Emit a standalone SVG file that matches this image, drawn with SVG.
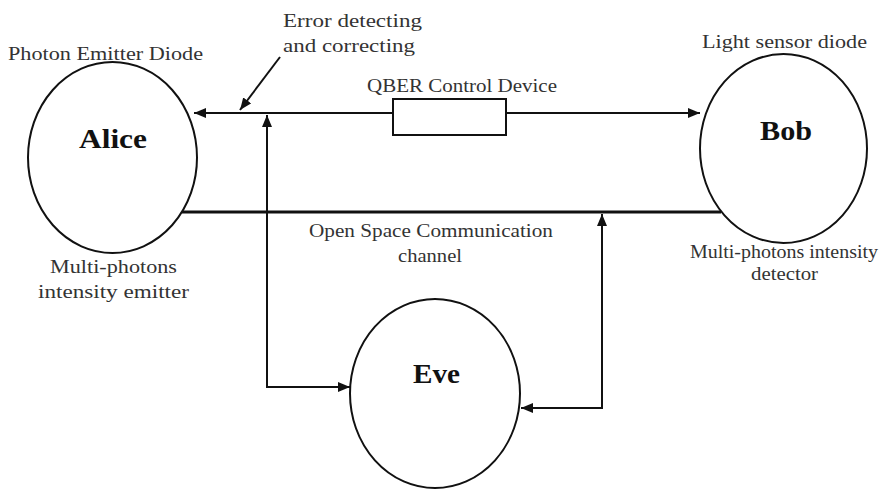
<svg xmlns="http://www.w3.org/2000/svg" width="883" height="489" viewBox="0 0 883 489">
  <style>
    .node { fill: #ffffff; stroke: #111111; stroke-width: 2; }
    .name { font-family: "Liberation Serif", "DejaVu Serif", serif; font-weight: bold; font-size: 28px; fill: #111111; text-anchor: middle; }
    .lbl { font-family: "Liberation Serif", "DejaVu Serif", serif; font-size: 18px; fill: #333333; }
    .wire { fill: none; stroke: #111111; stroke-width: 2; }
    .thick { fill: none; stroke: #111111; stroke-width: 3; }
  </style>
  <defs>
    <marker id="arrow" viewBox="0 0 12 10" refX="12" refY="5" markerWidth="12" markerHeight="10" markerUnits="userSpaceOnUse" orient="auto">
      <path d="M0,0 L12,5 L0,10 Z" fill="#111111"/>
    </marker>
  </defs>
  <rect width="883" height="489" fill="#ffffff"/>

  <!-- connectors -->
  <g id="connectors">
    <!-- upper channel: Alice <- QBER box -> Bob -->
    <line class="wire" x1="393" y1="113" x2="194" y2="113" marker-end="url(#arrow)"/>
    <line class="wire" x1="506" y1="113" x2="700" y2="113" marker-end="url(#arrow)"/>
    <!-- open space channel -->
    <line class="thick" x1="182" y1="212" x2="721" y2="212"/>
    <!-- Eve taps on upper channel -->
    <polyline class="wire" points="350,387 267,387 267,115" marker-end="url(#arrow)"/>
    <line class="wire" x1="267" y1="387" x2="350" y2="387" marker-end="url(#arrow)"/>
    <!-- Eve taps on open space channel -->
    <polyline class="wire" points="521,408 602,408 602,214" marker-end="url(#arrow)"/>
    <line class="wire" x1="602" y1="408" x2="521" y2="408" marker-end="url(#arrow)"/>
    <!-- pointer from error-correction label -->
    <line class="wire" x1="280" y1="57" x2="240" y2="110" marker-end="url(#arrow)"/>
  </g>

  <!-- QBER control device -->
  <g id="qber">
    <rect class="node" x="393" y="99" width="113" height="36"/>
    <text class="lbl" x="367" y="92" textLength="190" lengthAdjust="spacingAndGlyphs">QBER Control Device</text>
  </g>

  <!-- Alice -->
  <g id="alice">
    <ellipse class="node" cx="112.5" cy="157.5" rx="84.5" ry="95.5"/>
    <text class="name" x="113" y="148" textLength="68" lengthAdjust="spacingAndGlyphs">Alice</text>
    <text class="lbl" x="8" y="60" textLength="195" lengthAdjust="spacingAndGlyphs">Photon Emitter Diode</text>
    <text class="lbl" x="50" y="273" textLength="127" lengthAdjust="spacingAndGlyphs">Multi-photons</text>
    <text class="lbl" x="38" y="298" textLength="151" lengthAdjust="spacingAndGlyphs">intensity emitter</text>
  </g>

  <!-- Bob -->
  <g id="bob">
    <ellipse class="node" cx="783.5" cy="148.5" rx="83.5" ry="94.5"/>
    <text class="name" x="786" y="140" textLength="52" lengthAdjust="spacingAndGlyphs">Bob</text>
    <text class="lbl" x="702" y="48" textLength="165" lengthAdjust="spacingAndGlyphs">Light sensor diode</text>
    <text class="lbl" x="690" y="258" textLength="188" lengthAdjust="spacingAndGlyphs">Multi-photons intensity</text>
    <text class="lbl" x="751" y="280" textLength="67" lengthAdjust="spacingAndGlyphs">detector</text>
  </g>

  <!-- Eve -->
  <g id="eve">
    <ellipse class="node" cx="435" cy="393.5" rx="85" ry="94.5"/>
    <text class="name" x="436.5" y="383" textLength="47" lengthAdjust="spacingAndGlyphs">Eve</text>
  </g>

  <!-- channel labels -->
  <g id="labels">
    <text class="lbl" x="283" y="27" textLength="139" lengthAdjust="spacingAndGlyphs">Error detecting</text>
    <text class="lbl" x="283" y="52" textLength="132" lengthAdjust="spacingAndGlyphs">and correcting</text>
    <text class="lbl" x="309" y="237" textLength="244" lengthAdjust="spacingAndGlyphs">Open Space Communication</text>
    <text class="lbl" x="398" y="262" textLength="64" lengthAdjust="spacingAndGlyphs">channel</text>
  </g>
</svg>
